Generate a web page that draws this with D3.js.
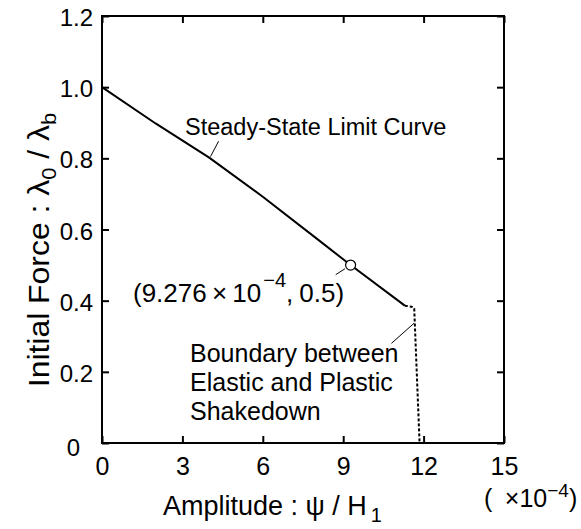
<!DOCTYPE html>
<html><head><meta charset="utf-8">
<script src="https://cdn.jsdelivr.net/npm/d3@7"></script>
<style>body{margin:0;background:#fff}svg{display:block}text{font-family:"Liberation Sans",Arial,sans-serif;fill:#000}</style>
</head><body>
<script>
const xTicks = [0, 3, 6, 9, 12, 15];
const yTicks = [0, 0.2, 0.4, 0.6, 0.8, 1.0, 1.2];
const yTickLabels = ["0", "0.2", "0.4", "0.6", "0.8", "1.0", "1.2"];
const steadyX = [0, 2, 4, 6, 8, 9.276, 11.3];
const steadyY = [1.0, 0.898, 0.802, 0.692, 0.575, 0.5, 0.386];
const boundX = [11.3, 11.55, 11.65, 11.85];
const boundY = [0.386, 0.383, 0.378, 0];
const markPoint = [9.276, 0.5];

const W = 581, H = 529;
const svg = d3.select("body").append("svg").attr("width", W).attr("height", H);
const x = d3.scaleLinear().domain([0, 15]).range([102, 504]);
const y = d3.scaleLinear().domain([0, 1.2]).range([443, 16]);

svg.append("rect").attr("x", x(0)).attr("y", y(1.2)).attr("width", x(15) - x(0)).attr("height", y(0) - y(1.2))
  .attr("fill", "none").attr("stroke", "#000").attr("stroke-width", 2);

const tl = 7;
const axB = d3.axisBottom(x).tickValues(xTicks).tickSizeInner(-tl).tickSizeOuter(0).tickPadding(14).tickFormat(d3.format("d"));
const gb = svg.append("g").attr("transform", `translate(0,${y(0)})`).call(axB);
const axT = d3.axisTop(x).tickValues(xTicks).tickSizeInner(-tl).tickSizeOuter(0).tickFormat("");
const gt = svg.append("g").attr("transform", `translate(0,${y(1.2)})`).call(axT);
const axL = d3.axisLeft(y).tickValues(yTicks).tickSizeInner(-tl).tickSizeOuter(0).tickPadding(9).tickFormat((d, i) => yTickLabels[i]);
const gl = svg.append("g").attr("transform", `translate(${x(0)},0)`).call(axL);
const axR = d3.axisRight(y).tickValues(yTicks).tickSizeInner(-tl).tickSizeOuter(0).tickFormat("");
const gr = svg.append("g").attr("transform", `translate(${x(15)},0)`).call(axR);
[gb, gt, gl, gr].forEach(g => {
  g.select(".domain").remove();
  g.selectAll(".tick line").attr("stroke", "#000").attr("stroke-width", 2);
  g.selectAll(".tick text").attr("font-size", 25).attr("font-family", '"Liberation Sans",Arial,sans-serif').attr("fill", "#000");
});
gl.selectAll(".tick text").attr("font-size", 24);
gb.selectAll(".tick text").attr("dy", "0.71em");
gl.selectAll(".tick text").attr("dy", "0.4em");
gl.selectAll(".tick text").filter(d => d === 0).attr("x", -22).attr("dy", "0.5em");

const line = d3.line().x(d => x(d[0])).y(d => y(d[1]));
svg.append("path").datum(steadyX.map((v, i) => [v, steadyY[i]])).attr("d", line)
  .attr("fill", "none").attr("stroke", "#000").attr("stroke-width", 2);
svg.append("path").datum(boundX.map((v, i) => [v, boundY[i]])).attr("d", line)
  .attr("fill", "none").attr("stroke", "#000").attr("stroke-width", 2).attr("stroke-dasharray", "3,2");

svg.append("circle").attr("cx", x(markPoint[0])).attr("cy", y(markPoint[1])).attr("r", 5)
  .attr("fill", "#fff").attr("stroke", "#000").attr("stroke-width", 1.2);

const leaders = [
  [[4.05, 0.805], [4.35, 0.848]],
  [[8.72, 0.473], [9.07, 0.49]],
  [[10.8, 0.28], [11.65, 0.337]]
];
leaders.forEach(l => svg.append("line").attr("x1", x(l[0][0])).attr("y1", y(l[0][1])).attr("x2", x(l[1][0])).attr("y2", y(l[1][1]))
  .attr("stroke", "#000").attr("stroke-width", 1));

svg.append("text").attr("x", 185).attr("y", 135).attr("font-size", 23.5).text("Steady-State Limit Curve");
const pt = svg.append("text").attr("x", 133).attr("y", 302).attr("font-size", 26);
pt.append("tspan").text("(9.276\u2009\u00d7\u200910");
pt.append("tspan").attr("dx", 2).attr("dy", -15).attr("font-size", 20).text("\u22124");
pt.append("tspan").attr("dy", 15).text(",");
pt.append("tspan").attr("dx", 6).text("0.5)");
["Boundary between", "Elastic and Plastic", "Shakedown"].forEach((t, i) =>
  svg.append("text").attr("x", 190).attr("y", 362 + i * 29).attr("font-size", 25).text(t));

const xt = svg.append("text").attr("x", 163).attr("y", 515).attr("font-size", 27);
xt.append("tspan").text("Amplitude : \u03c8 / H");
xt.append("tspan").attr("dy", 7).attr("dx", 4).attr("font-size", 20).text("1");
const xm = svg.append("text").attr("x", 484).attr("y", 507).attr("font-size", 25);
xm.append("tspan").text("(\u2002\u00d710");
xm.append("tspan").attr("dy", -10).attr("font-size", 19).text("\u22124");
xm.append("tspan").attr("dy", 10).text(")");

const yt = svg.append("text").attr("transform", "translate(49,250) rotate(-90) scale(1.1,1)").attr("text-anchor", "middle").attr("font-size", 29);
yt.append("tspan").text("Initial Force : \u03bb");
yt.append("tspan").attr("dy", 7).attr("font-size", 20).text("0");
yt.append("tspan").attr("dy", -7).text(" / \u03bb");
yt.append("tspan").attr("dy", 7).attr("font-size", 20).text("b");
</script>
</body></html>
